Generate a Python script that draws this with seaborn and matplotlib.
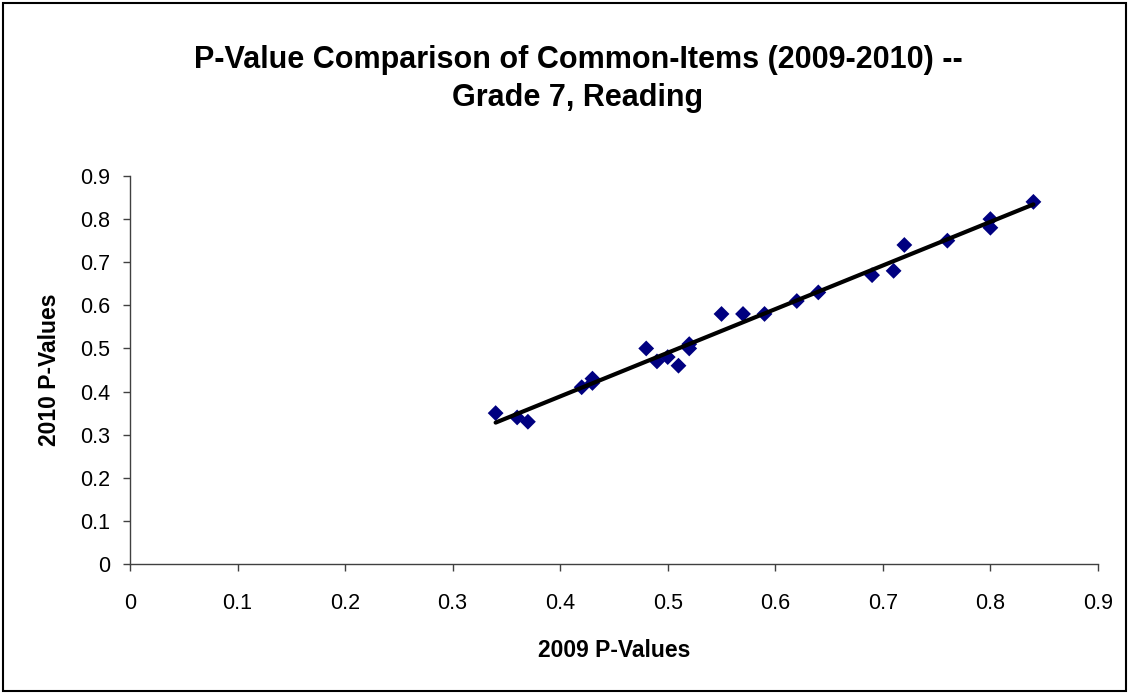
import numpy as np
import pandas as pd
import seaborn as sns
import matplotlib.pyplot as plt

# %%

### P-values
p2009 = [0.34, 0.36, 0.37, 0.42, 0.43, 0.43, 0.48, 0.49, 0.50, 0.51, 0.52, 0.52,
         0.55, 0.57, 0.59, 0.62, 0.64, 0.69, 0.71, 0.72, 0.76, 0.80, 0.80, 0.84]
p2010 = [0.35, 0.34, 0.33, 0.41, 0.42, 0.43, 0.50, 0.47, 0.48, 0.46, 0.50, 0.51,
         0.58, 0.58, 0.58, 0.61, 0.63, 0.67, 0.68, 0.74, 0.75, 0.78, 0.80, 0.84]
ticks = [0, 0.1, 0.2, 0.3, 0.4, 0.5, 0.6, 0.7, 0.8, 0.9]
tick_labels = ["0", "0.1", "0.2", "0.3", "0.4", "0.5", "0.6", "0.7", "0.8", "0.9"]

df = pd.DataFrame({"2009": p2009, "2010": p2010})

# %%

sns.set_style("white")
plt.rcParams["font.family"] = ["Liberation Sans", "DejaVu Sans"]
plt.rcParams["text.color"] = "black"
plt.rcParams["axes.labelcolor"] = "black"
plt.rcParams["xtick.color"] = "black"
plt.rcParams["ytick.color"] = "black"

fig = plt.figure(figsize=(11.29, 6.94), dpi=100)
ax = fig.add_axes([0.1151, 0.1873, 0.8574, 0.5591])

sns.regplot(x="2009", y="2010", data=df, ax=ax, ci=None, marker="D",
            scatter_kws={"color": "#000080", "s": 65, "edgecolors": "none", "alpha": 1},
            line_kws={"color": "black", "linewidth": 3})

ax.set_xlim(0, 0.9)
ax.set_ylim(0, 0.9)
ax.set_xticks(ticks)
ax.set_xticklabels(tick_labels)
ax.set_yticks(ticks)
ax.set_yticklabels(tick_labels)
ax.tick_params(axis="both", direction="out", length=5, width=1, color="#404040",
               labelsize=15.5, labelcolor="black", left=True, bottom=True)
ax.tick_params(axis="x", pad=16)
ax.tick_params(axis="y", pad=9)

for side in ["top", "right"]:
    ax.spines[side].set_visible(False)
for side in ["left", "bottom"]:
    ax.spines[side].set_color("#404040")
    ax.spines[side].set_linewidth(1)

ax.set_xlabel("2009 P-Values", fontsize=16.5, fontweight="bold", labelpad=18)
ax.set_ylabel("2010 P-Values", fontsize=16.5, fontweight="bold", labelpad=14)

fig.text(0.512, 0.886, "P-Value Comparison of Common-Items (2009-2010) --\nGrade 7, Reading",
         ha="center", va="center", fontsize=22, fontweight="bold", linespacing=1.35)

### Outer frame
fig.patches.append(plt.Rectangle((0.003, 0.004), 0.994, 0.992, transform=fig.transFigure,
                                 fill=False, edgecolor="black", linewidth=1.5))

fig.savefig("out.png", dpi=100)
